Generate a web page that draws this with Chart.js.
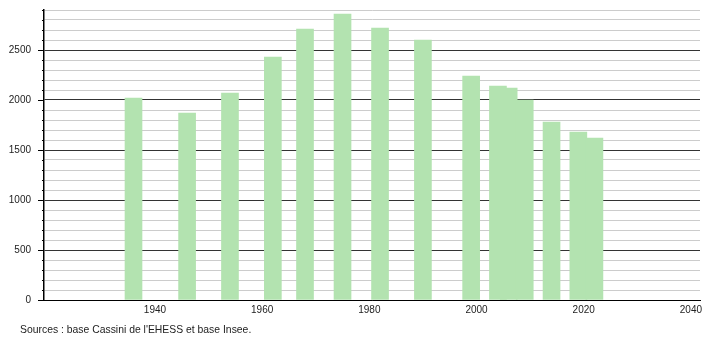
<!DOCTYPE html>
<html>
<head>
<meta charset="utf-8">
<script src="https://cdn.jsdelivr.net/npm/chart.js@4/dist/chart.umd.min.js"></script>
<style>
  html, body { margin: 0; padding: 0; background: #fff; }
  canvas { display: block; }
</style>
</head>
<body>
<canvas id="c" width="710" height="340"></canvas>
<script>
const years = [1936, 1946, 1954, 1962, 1968, 1975, 1982, 1990, 1999, 2004, 2006, 2009, 2014, 2019, 2022];
const population = [2020, 1870, 2070, 2430, 2710, 2860, 2720, 2600, 2240, 2140, 2120, 2000, 1780, 1680, 1620];
const xTickLabels = [1940, 1960, 1980, 2000, 2020, 2040];
const sourceText = "Sources : base Cassini de l'EHESS et base Insee.";

const FONT = "'Liberation Sans', Arial, sans-serif";

const yTickMarks = {
  id: 'yTickMarks',
  afterDraw(chart) {
    const y = chart.scales.y;
    const ctx = chart.ctx;
    const x0 = y.right;
    ctx.save();
    ctx.strokeStyle = '#000';
    ctx.lineWidth = 1;
    for (let v = y.min; v <= y.max; v += 100) {
      const py = Math.round(y.getPixelForValue(v)) + 0.5;
      const len = (v % 500 === 0) ? 6 : 2;
      ctx.beginPath();
      ctx.moveTo(x0 - len, py);
      ctx.lineTo(x0, py);
      ctx.stroke();
    }
    ctx.restore();
  }
};

const sourceNote = {
  id: 'sourceNote',
  afterDraw(chart) {
    const ctx = chart.ctx;
    ctx.save();
    ctx.fillStyle = '#222';
    ctx.font = '10.4px ' + FONT;
    ctx.textBaseline = 'middle';
    ctx.textAlign = 'left';
    ctx.fillText(sourceText, 20, 330);
    ctx.restore();
  }
};

new Chart(document.getElementById('c'), {
  type: 'bar',
  data: {
    datasets: [{
      data: years.map((yr, i) => ({ x: yr, y: population[i] })),
      backgroundColor: '#b3e3b0',
      borderWidth: 0,
      barThickness: 17
    }]
  },
  options: {
    responsive: false,
    devicePixelRatio: 1,
    animation: false,
    events: [],
    layout: { padding: { top: 10, right: 10, left: 0, bottom: 0 } },
    plugins: {
      legend: { display: false },
      tooltip: { enabled: false },
      title: { display: false }
    },
    scales: {
      x: {
        type: 'linear',
        offset: false,
        min: 1919.3,
        max: 2041.7,
        afterBuildTicks: s => { s.ticks = xTickLabels.map(v => ({ value: v })); },
        afterFit: s => { s.height = 40; s.paddingLeft = 0; s.paddingRight = 0; },
        grid: { display: false, drawTicks: false, offset: false },
        border: { display: true, color: '#000', width: 1 },
        ticks: {
          autoSkip: false,
          maxRotation: 0,
          padding: 4,
          color: '#222',
          font: { family: FONT, size: 10 },
          callback: v => String(v)
        }
      },
      y: {
        min: 0,
        max: 2900,
        afterFit: s => { s.width = 44; s.paddingTop = 0; s.paddingBottom = 0; },
        grid: {
          drawTicks: false,
          color: c => (c.tick && c.tick.value % 500 === 0) ? '#333' : '#cccccc',
          lineWidth: 1
        },
        border: { display: true, color: '#000', width: 1.5 },
        ticks: {
          stepSize: 100,
          autoSkip: false,
          padding: 13,
          color: '#222',
          font: { family: FONT, size: 10 },
          callback: v => (v % 500 === 0 ? String(v) : '')
        }
      }
    }
  },
  plugins: [yTickMarks, sourceNote]
});
</script>
</body>
</html>
